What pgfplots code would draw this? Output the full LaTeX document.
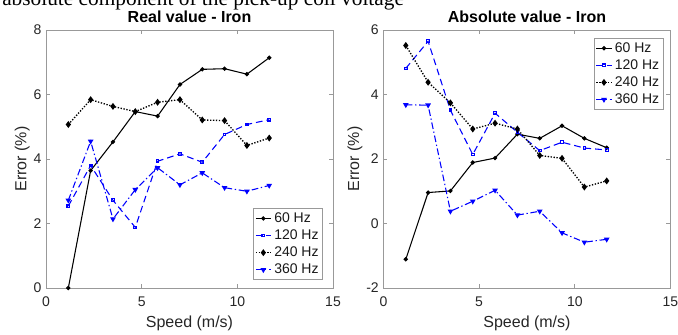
\documentclass[border=0pt]{standalone}
\usepackage{fontspec}
\setmainfont{Liberation Sans}
\newfontfamily\capfont{Liberation Serif}
\usepackage{pgfplots}
\pgfplotsset{compat=1.18}

\pgfplotstableread{
x r60 r120 r240 r360
1.167 0.00 2.54 5.07 2.72
2.333 3.64 3.80 5.84 4.55
3.500 4.53 2.72 5.63 2.14
4.667 5.47 1.88 5.47 3.05
5.833 5.33 3.93 5.76 3.73
7.000 6.31 4.16 5.84 3.20
8.167 6.78 3.90 5.21 3.57
9.333 6.80 4.76 5.19 3.11
10.500 6.63 5.07 4.42 3.00
11.667 7.14 5.22 4.65 3.18
}\realtab

\pgfplotstableread{
x a60 a120 a240 a360
1.167 -1.11 4.81 5.52 3.68
2.333 0.96 5.65 4.38 3.67
3.500 1.01 3.51 3.74 0.38
4.667 1.89 2.14 2.93 0.69
5.833 2.03 3.42 3.11 1.03
7.000 2.77 2.83 2.93 0.26
8.167 2.64 2.26 2.11 0.38
9.333 3.03 2.52 2.02 -0.29
10.500 2.64 2.34 1.13 -0.58
11.667 2.35 2.28 1.32 -0.49
}\abstab

\pgfplotsset{
  myax/.style={
    scale only axis, width=215.25pt, height=193.5pt,
    xmin=0, xmax=15, xtick={0,5,10,15},
    tick align=inside, major tick length=3pt,
    axis line style={black!40, line width=0.5pt},
    tick style={black!40, line width=0.5pt},
    ticklabel style={font=\fontsize{10.5}{12}\selectfont, text=black!85},
    xticklabel style={yshift=-3pt},
    /pgf/number format/assume math mode=true,
    xlabel={Speed (m/s)}, ylabel={Error (\%)},
    ylabel shift=-4pt,
    label style={font=\fontsize{12}{14}\selectfont, text=black!85},
    title style={font=\bfseries\fontsize{12}{14}\selectfont, at={(0.5,1)}, anchor=base},
    legend cell align=left,
    legend style={font=\fontsize{10.5}{12}\selectfont, draw=black!40, line width=0.5pt,
      inner sep=1pt, row sep=0pt, text=black!90},
    legend image code/.code={\draw[mark repeat=2,mark phase=2,##1] plot coordinates {(0cm,0cm) (0.2cm,0cm) (0.4cm,0cm)};},
  },
  s60/.style={black, line width=0.8pt, solid, mark=*, mark size=1.2pt},
  s120/.style={blue, line width=0.8pt, dash pattern=on 5pt off 3pt, mark=square, mark size=1pt, mark options={solid}},
  s240/.style={black, line width=1pt, dash pattern=on 1pt off 1.2pt, mark=diamond*, mark size=1.8pt, mark options={solid}},
  s360/.style={blue, line width=0.8pt, dash pattern=on 5pt off 2pt on 1pt off 2pt, mark=triangle*, mark size=1.7pt, mark options={solid, rotate=180}},
}

\begin{document}
\begin{tikzpicture}
\useasboundingbox (0,0) rectangle (508.5pt,251.25pt);
\clip (0,0) rectangle (508.5pt,251.25pt);
\node[anchor=base west, inner sep=0pt, font=\capfont\fontsize{16}{18}\selectfont] at (1.5pt,246.75pt) {absolute component of the pick-up coil voltage};

\begin{axis}[myax, at={(34.5pt,35.25pt)}, anchor=south west,
  ymin=0, ymax=8, ytick={0,2,4,6,8},
  title={Real value - Iron},
  legend style={at={(0.965,0.031)}, anchor=south east}]
\addplot[s60] table[x=x,y=r60] {\realtab};
\addplot[s120] table[x=x,y=r120] {\realtab};
\addplot[s240] table[x=x,y=r240] {\realtab};
\addplot[s360] table[x=x,y=r360] {\realtab};
\legend{60 Hz,120 Hz,240 Hz,360 Hz}
\end{axis}

\begin{axis}[myax, at={(287.6pt,35.25pt)}, anchor=south west,
  ymin=-2, ymax=6, ytick={-2,0,2,4,6},
  title={Absolute value - Iron},
  legend style={at={(0.976,0.969)}, anchor=north east}]
\addplot[s60] table[x=x,y=a60] {\abstab};
\addplot[s120] table[x=x,y=a120] {\abstab};
\addplot[s240] table[x=x,y=a240] {\abstab};
\addplot[s360] table[x=x,y=a360] {\abstab};
\legend{60 Hz,120 Hz,240 Hz,360 Hz}
\end{axis}
\end{tikzpicture}
\end{document}
